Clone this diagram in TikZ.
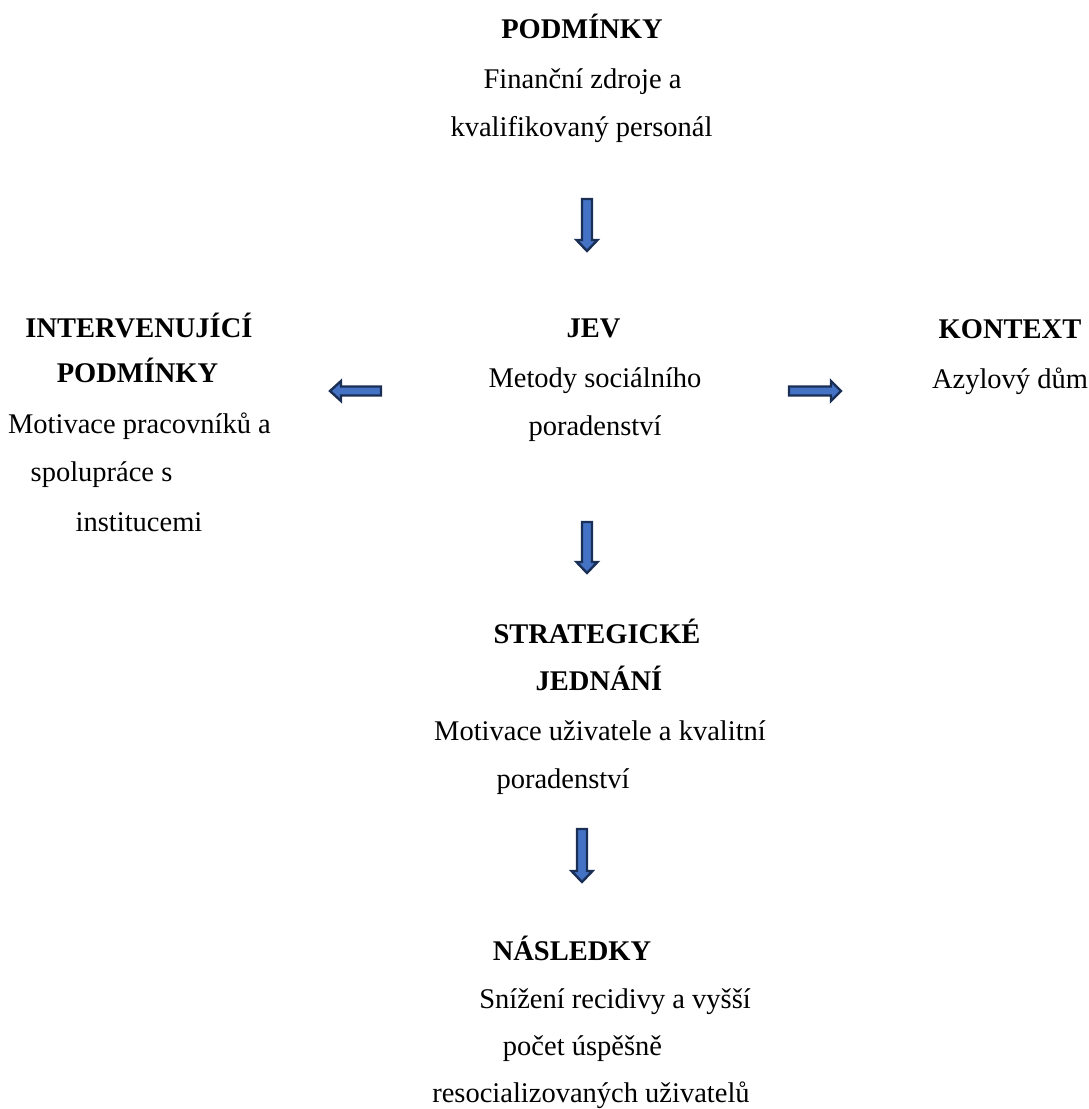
\documentclass[tikz,border=0pt]{standalone}
\usepackage{fontspec}
\setmainfont{Liberation Serif}
\definecolor{arrfill}{HTML}{4472C4}
\definecolor{arrline}{HTML}{1A2F55}
\newcommand\myDown[3]{\draw[barrow] (#1-5,#2) -- (#1+5,#2) -- (#1+5,#3-11) -- (#1+10.5,#3-11) -- (#1,#3) -- (#1-10.5,#3-11) -- (#1-5,#3-11) -- cycle;}
\newcommand\myRight[3]{\draw[barrow] (#2,#1-4.5) -- (#3-10,#1-4.5) -- (#3-10,#1-10) -- (#3,#1) -- (#3-10,#1+10) -- (#3-10,#1+4.5) -- (#2,#1+4.5) -- cycle;}
\newcommand\myLeft[3]{\draw[barrow] (#2,#1-4.5) -- (#3+11,#1-4.5) -- (#3+11,#1-10) -- (#3,#1) -- (#3+11,#1+10) -- (#3+11,#1+4.5) -- (#2,#1+4.5) -- cycle;}
\begin{document}
\begin{tikzpicture}[x=1pt,y=-1pt,
  txt/.style={anchor=base,inner sep=0pt,font=\fontsize{28.5}{34}\selectfont},
  hd/.style={txt,font=\fontsize{28.5}{34}\selectfont\bfseries},
  barrow/.style={fill=arrfill,draw=arrline,line width=2.4pt,line join=miter}]
\useasboundingbox (0,0) rectangle (1089,1109);
% top
\node[hd]  (p1) at (582,38)   {PODMÍNKY};
\node[txt] (p2) at (582.5,88) {Finanční zdroje a};
\node[txt] (p3) at (581.5,136){kvalifikovaný personál};
% left
\node[hd]  (i1) at (139,337)  {INTERVENUJÍCÍ};
\node[hd]  (i2) at (137.5,382){PODMÍNKY};
\node[txt] (i3) at (139.5,433){Motivace pracovníků a};
\node[txt] (i4) at (101.5,481){spolupráce s};
\node[txt] (i5) at (139,531)  {institucemi};
% center
\node[hd]  (j1) at (593.5,337){JEV};
\node[txt] (j2) at (595,387)  {Metody sociálního};
\node[txt] (j3) at (595,435)  {poradenství};
% right
\node[hd]  (k1) at (1010,338) {KONTEXT};
\node[txt] (k2) at (1010,388) {Azylový dům};
% strategic
\node[hd]  (s1) at (597,643)  {STRATEGICKÉ};
\node[hd]  (s2) at (599,690)  {JEDNÁNÍ};
\node[txt] (s3) at (600,740)  {Motivace uživatele a kvalitní};
\node[txt] (s4) at (563,788)  {poradenství};
% consequences
\node[hd]  (n1) at (572,960)  {NÁSLEDKY};
\node[txt] (n2) at (615,1008) {Snížení recidivy a vyšší};
\node[txt] (n3) at (582.5,1055){počet úspěšně};
\node[txt] (n4) at (591,1102) {resocializovaných uživatelů};
% arrows
\myDown{587}{199}{251}
\myDown{587}{522}{573}
\myDown{582}{829}{882}
\myLeft{391}{381}{330}
\myRight{391}{789}{841}
\end{tikzpicture}
\end{document}
